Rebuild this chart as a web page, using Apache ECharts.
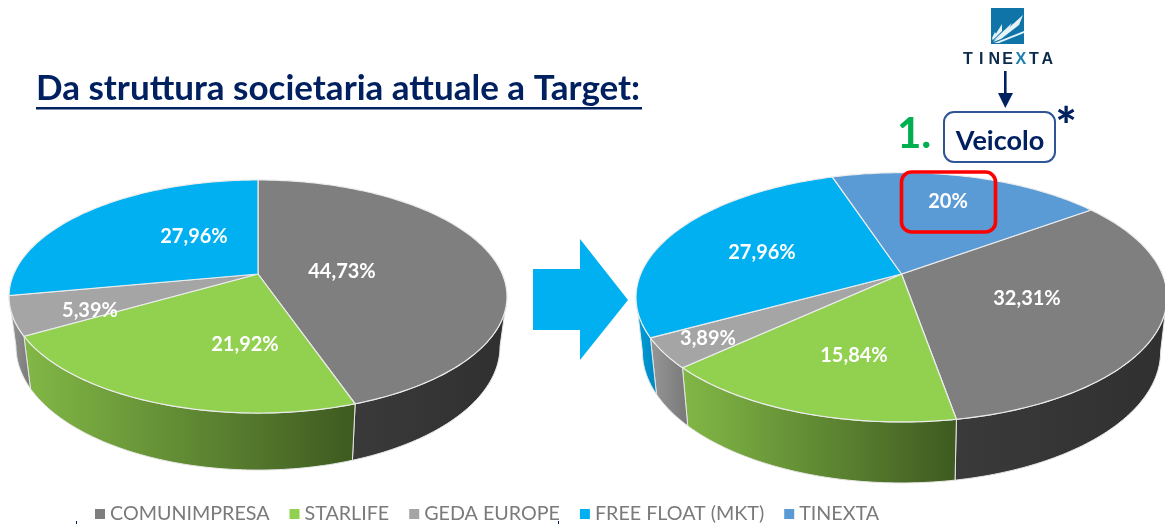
<!DOCTYPE html>
<html>
<head>
<meta charset="utf-8">
<title>Da struttura societaria attuale a Target</title>
<style>
  html, body { margin: 0; padding: 0; background: #fff; }
  #chart { width: 1165px; height: 524px; }
</style>
</head>
<body>
<div id="chart"></div>
<script src="https://cdn.jsdelivr.net/npm/echarts@6/dist/echarts.min.js"></script>
<script>
// dati
const companies = ['COMUNIMPRESA', 'STARLIFE', 'GEDA EUROPE', 'FREE FLOAT (MKT)', 'TINEXTA']
const valuesAttuale = [44.73, 21.92, 5.39, 27.96, 0]
const valuesTarget = [32.31, 15.84, 3.89, 27.96, 20]
const titleText = 'Da struttura societaria attuale a Target:'
const logoLetters = ['T', 'I', 'N', 'E', 'X', 'T', 'A']

// colori
const topColors = ['#7f7f7f', '#92d050', '#a5a5a5', '#00b0f0', '#5b9bd5']
const wallColors = [
  ['#3a3a3a', '#303030'],
  ['#82b846', '#3e5a20'],
  ['#979797', '#787878'],
  ['#009fdc', '#0088c0'],
  ['#4f8bc0', '#41729f'],
]
const navy = '#002060'
const font = 'Lato'

// geometria delle due torte: prospettiva di un disco, k = fuga, sx/sy/dy = base del cilindro
const pies = [
  {
    values: valuesAttuale, start: 0, cx: 258, cy: 274, a: 244.3, b: 112.2, k: 0.193,
    sx: 0.972, sy: 1.06, dy: 48.7,
    labels: [[342, 272], [245, 345], [90, 311], [194, 237], null],
  },
  {
    values: valuesTarget, start: 53.8, cx: 901.5, cy: 274, a: 260.8, b: 120.3, k: 0.187,
    sx: 0.976, sy: 1.054, dy: 53,
    labels: [[1027, 299], [854, 356], [708, 339], [762, 253], [948, 202]],
  },
]

// punto sul bordo superiore, angolo in gradi da ore 12 in senso orario
const rimPoint = (pie, deg) => {
  const t = (deg * Math.PI) / 180
  const u = Math.sin(t)
  const v = -Math.cos(t)
  const w = 1 - pie.k * v
  return [pie.cx + (pie.a * u) / w, pie.cy + (pie.b * v) / w]
}
// stesso punto sulla base
const basePoint = (pie, p) => [
  pie.cx + (p[0] - pie.cx) * pie.sx,
  pie.cy + pie.dy + (p[1] - pie.cy) * pie.sy,
]

const arcDegs = (from, to) => {
  const out = []
  for (let d = from; d < to; d += 1) out.push(d)
  out.push(to)
  return out
}

const formatPct = (v) => (Number.isInteger(v) ? String(v) : v.toFixed(2).replace('.', ',')) + '%'

const renderSlice = (companyIdx) => (params, api) => {
  const pie = pies[api.value(0)]
  const value = api.value(1)
  let before = 0
  for (let i = 0; i < companyIdx; i++) before += pie.values[i]
  const from = pie.start + (before / 100) * 360
  const to = from + (value / 100) * 360

  const children = []

  // parete laterale, solo la parte davanti (da dove il bordo e' piu' largo)
  const edge = (Math.acos(-pie.k) * 180) / Math.PI
  for (const shift of [0, 360]) {
    const wFrom = Math.max(from, edge + shift)
    const wTo = Math.min(to, 360 - edge + shift)
    if (wTo <= wFrom) continue
    const rim = arcDegs(wFrom, wTo).map((d) => rimPoint(pie, d))
    const base = rim.map((p) => basePoint(pie, p)).reverse()
    children.push({
      type: 'polygon',
      shape: { points: rim.concat(base) },
      style: {
        fill: new echarts.graphic.LinearGradient(0, 0, 1, 0, [
          { offset: 0, color: wallColors[companyIdx][0] },
          { offset: 1, color: wallColors[companyIdx][1] },
        ]),
        stroke: '#e6e6e6',
        lineWidth: 1,
      },
    })
  }

  // faccia superiore
  const top = [[pie.cx, pie.cy]].concat(arcDegs(from, to).map((d) => rimPoint(pie, d)))
  children.push({
    type: 'polygon',
    shape: { points: top },
    style: { fill: topColors[companyIdx], stroke: '#ececec', lineWidth: 1.2 },
  })

  const pos = pie.labels[companyIdx]
  children.push({
    type: 'text',
    x: pos[0],
    y: pos[1],
    z2: 5,
    style: {
      text: formatPct(value),
      fill: '#fff',
      font: `bold 20px ${font}`,
      align: 'center',
      verticalAlign: 'middle',
    },
  })
  return { type: 'group', children }
}

const series = companies.map((name, i) => ({
  type: 'custom',
  name,
  coordinateSystem: 'none',
  itemStyle: { color: topColors[i] },
  renderItem: renderSlice(i),
  data: pies
    .map((pie, p) => [p, pie.values[i]])
    .filter((d) => d[1] > 0),
  animation: false,
  silent: true,
}))

// disegni fuori dal grafico: titolo, freccia, logo, box Veicolo
const rays = [
  [[993, 42], [1023, 15], [1019, 25], [1001, 39]],
  [[993, 41], [1012, 23], [1008, 30], [998, 38]],
  [[992, 40], [1002, 24], [1002, 31], [995, 38]],
  [[992, 38], [995, 32], [996, 34], [993, 40]],
  [[994, 43], [1024, 31], [1024, 33], [999, 43]],
]
const graphic = [
  { type: 'text', x: 36, y: 71, style: { text: titleText, fill: navy, font: `bold 35px ${font}` } },
  { type: 'rect', shape: { x: 36, y: 107, width: 606, height: 2.6 }, style: { fill: navy } },
  {
    type: 'polygon',
    shape: { points: [[533, 269], [580, 269], [580, 239], [628, 300], [580, 360], [580, 330], [533, 330]] },
    style: { fill: '#00b0f0' },
  },
  { type: 'rect', shape: { x: 991, y: 8, width: 33, height: 36 }, style: { fill: '#0f75a8' } },
  ...rays.map((points) => ({ type: 'polygon', shape: { points }, style: { fill: '#e8f3f8' } })),
  ...logoLetters.map((ch, i) => ({
    type: 'text',
    x: 968 + i * 13.2,
    y: 60,
    style: {
      text: ch,
      fill: ch === 'X' ? '#1c7fb0' : '#0c2a4a',
      font: 'bold 16px "Liberation Sans"',
      align: 'center',
      verticalAlign: 'middle',
    },
  })),
  { type: 'rect', shape: { x: 1004, y: 71, width: 2.6, height: 24 }, style: { fill: navy } },
  { type: 'polygon', shape: { points: [[998, 93], [1013, 93], [1005.3, 108]] }, style: { fill: navy } },
  {
    type: 'rect',
    shape: { x: 944, y: 112, width: 111, height: 50, r: 10 },
    style: { fill: '#fff', stroke: '#2f5597', lineWidth: 2 },
  },
  {
    type: 'text', x: 1000, y: 141,
    style: { text: 'Veicolo', fill: navy, font: `bold 27px ${font}`, align: 'center', verticalAlign: 'middle' },
  },
  {
    type: 'text', x: 1066, y: 128,
    style: { text: '*', fill: navy, font: `900 50px ${font}`, align: 'center', verticalAlign: 'middle' },
  },
  {
    type: 'text', x: 897, y: 134,
    style: { text: '1.', fill: '#00b050', font: `bold 42px ${font}`, align: 'left', verticalAlign: 'middle' },
  },
  {
    type: 'rect',
    shape: { x: 901.5, y: 172, width: 94, height: 60, r: 10 },
    style: { fill: 'transparent', stroke: '#ff0000', lineWidth: 3.6 },
    z: 120,
  },
  { type: 'rect', shape: { x: 76, y: 521, width: 1, height: 3 }, style: { fill: navy } },
  { type: 'rect', shape: { x: 558, y: 521, width: 1, height: 3 }, style: { fill: navy } },
]

const chart = echarts.init(document.getElementById('chart'), null, { renderer: 'canvas' })
chart.setOption({
  animation: false,
  backgroundColor: '#fff',
  legend: {
    data: companies,
    left: 90,
    top: 499,
    icon: 'rect',
    itemWidth: 10,
    itemHeight: 10,
    itemGap: 20,
    selectedMode: false,
    textStyle: { color: '#7a7a7a', fontSize: 19.7, fontFamily: font },
  },
  graphic,
  series,
})
</script>
</body>
</html>
